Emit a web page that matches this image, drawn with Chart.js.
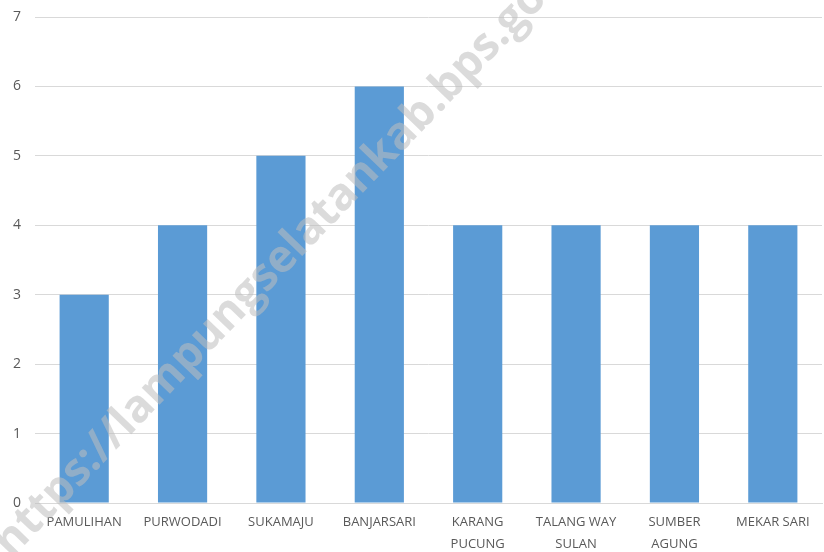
<!DOCTYPE html>
<html>
<head>
<meta charset="utf-8">
<script src="https://cdn.jsdelivr.net/npm/chart.js@4/dist/chart.umd.min.js"></script>
<style>
  html, body { margin: 0; padding: 0; background: #fff; }
  #wrap { width: 824px; height: 552px; position: relative; }
</style>
</head>
<body>
<div id="wrap"><canvas id="bar-chart"></canvas></div>
<script>
const categories = ["PAMULIHAN", "PURWODADI", "SUKAMAJU", "BANJARSARI", ["KARANG", "PUCUNG"], ["TALANG WAY", "SULAN"], ["SUMBER", "AGUNG"], "MEKAR SARI"];
const values = [3, 4, 5, 6, 4, 4, 4, 4];
const yTicks = [0, 1, 2, 3, 4, 5, 6, 7];
const watermark = "https://lampungselatankab.bps.go.id";

// faint diagonal watermark over the chart
const watermarkPlugin = {
  id: "watermark",
  afterDraw(chart) {
    const ctx = chart.ctx;
    ctx.save();
    ctx.translate(2, 550);
    ctx.rotate(-Math.PI / 4 - 0.02);
    ctx.font = "bold 45px 'Open Sans', sans-serif";
    ctx.fillStyle = "rgba(190,190,190,0.55)";
    ctx.textBaseline = "middle";
    ctx.fillText(watermark, 0, 0);
    ctx.restore();
  }
};

new Chart(document.getElementById("bar-chart"), {
  type: "bar",
  data: {
    labels: categories,
    datasets: [
      {
        data: values,
        backgroundColor: "#5b9bd5",
        borderWidth: 0,
        categoryPercentage: 1.0,
        barPercentage: 0.5,
      },
    ],
  },
  options: {
    responsive: true,
    maintainAspectRatio: false,
    animation: false,
    layout: { padding: { top: 17, right: 2, left: 0, bottom: 0 } },
    plugins: { legend: { display: false }, tooltip: { enabled: false } },
    scales: {
      x: {
        grid: { display: false },
        border: { color: "#d9d9d9" },
        ticks: {
          color: "#595959",
          font: { family: "'Open Sans', sans-serif", size: 13, lineHeight: 1.7 },
          maxRotation: 0,
          autoSkip: false,
          padding: 0,
        },
        afterFit(scale) { scale.height = 49; },
      },
      y: {
        min: 0,
        max: 7,
        afterBuildTicks(scale) { scale.ticks = yTicks.map((v) => ({ value: v })); },
        grid: { color: "#d9d9d9", drawTicks: false },
        border: { display: false },
        ticks: {
          color: "#595959",
          font: { family: "'Open Sans', sans-serif", size: 14 },
          padding: 14,
        },
        afterFit(scale) {
          scale.width = 35;
          scale.paddingTop = 0;
          scale.paddingBottom = 0;
        },
      },
    },
  },
  plugins: [watermarkPlugin],
});
</script>
</body>
</html>
